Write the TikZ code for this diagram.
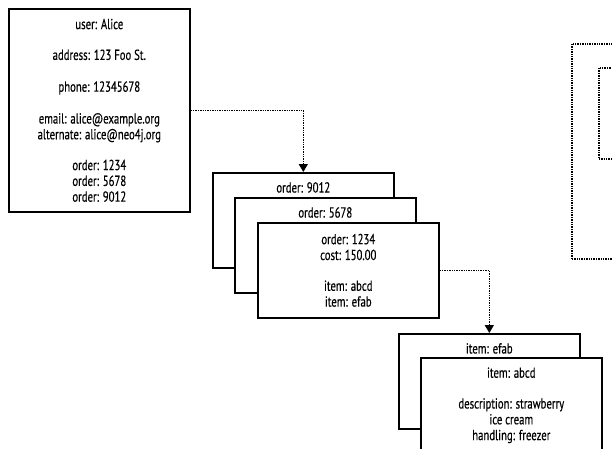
\documentclass[tikz,border=0pt]{standalone}
\usepackage{fontspec}
\setmainfont[FakeStretch=0.74,FakeBold=0.4]{PT Sans}
\usetikzlibrary{arrows.meta, positioning}
\tikzset{
  box/.style={rectangle,draw,fill=white,line width=1.6pt,align=center,inner sep=0pt,anchor=north west},
  stackbox/.style={box,minimum width=181pt,minimum height=95pt},
  toptext/.style={label={[anchor=north,inner sep=0pt,yshift=-10pt]north:{#1}}},
  ghost/.style={rectangle,draw,line width=1.5pt,dash pattern=on 1.4pt off 1pt,anchor=north west},
  line/.style={line width=1.5pt,dash pattern=on 1.4pt off 1pt,-{Triangle[width=9pt,length=8pt]}}
}

\begin{document}
\begin{tikzpicture}[x=1pt,y=-1pt,font=\fontsize{14.5}{15.8}\selectfont]
\path[use as bounding box] (0,0) rectangle (612,448);
\clip (0,0) rectangle (612,448);
% user record
\node[box,minimum width=181pt,minimum height=203pt] (alice) at (8,8)
  {user: Alice\\[15pt]address: 123 Foo St.\\[16pt]phone: 12345678\\[16pt]email: alice@example.org\\alternate: alice@neo4j.org\\[15pt]order: 1234\\order: 5678\\order: 9012};
% orders
\node[stackbox,toptext={order: 9012}] (o9012) at (212,172) {};
\node[stackbox,toptext={order: 5678}] (o5678) at (234,197) {};
\node[stackbox] (o1234) at (257,222) {order: 1234\\cost: 150.00\\[15pt]item: abcd\\item: efab};
% items
\node[stackbox,toptext={item: efab}] (efab) at (398,333) {};
\node[stackbox] (abcd) at (420,357) {item: abcd\\[15pt]description: strawberry\\ice cream\\handling: freezer};
% cut-off aggregate on the right
\node[ghost,minimum width=100pt,minimum height=215pt] (outer) at (571,43) {};
\node[ghost,minimum width=60pt,minimum height=91pt] (inner) at (598,67) {};
\draw[line] (alice.east) -| (o9012.north);
\draw[line] (o1234.east) -| (efab.north);
\end{tikzpicture}
\end{document}
